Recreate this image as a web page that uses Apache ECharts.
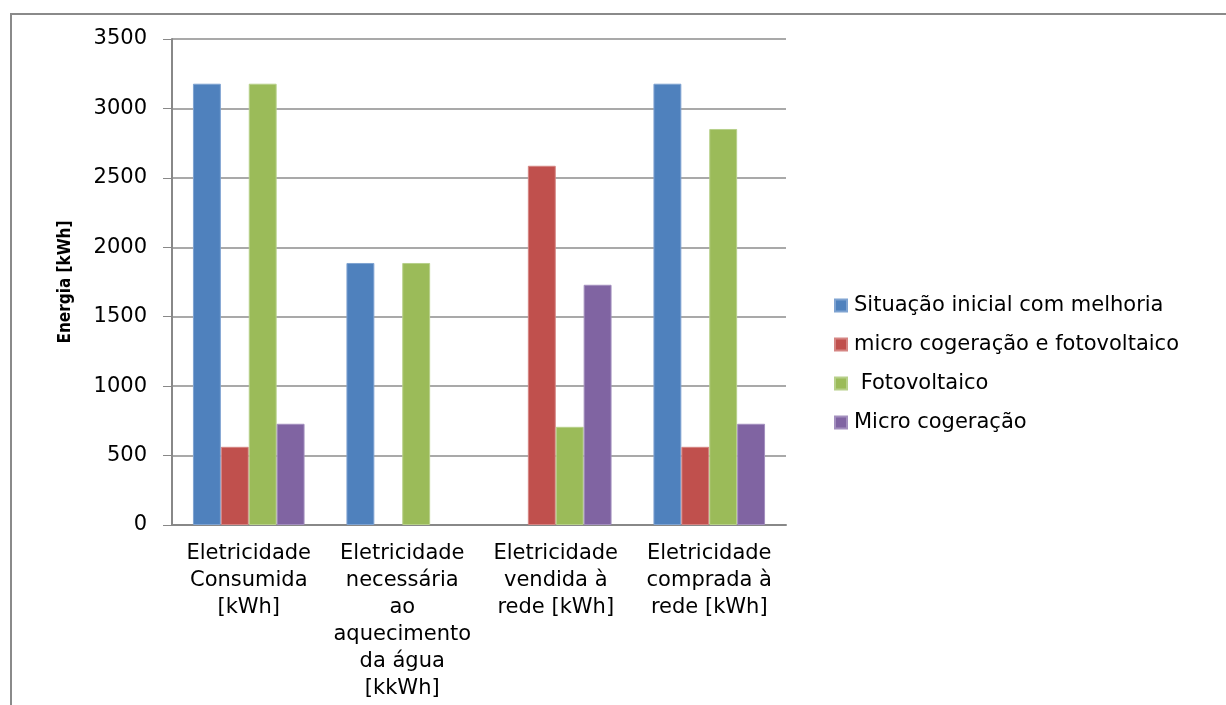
<!DOCTYPE html>
<html>
<head>
<meta charset="utf-8">
<script src="https://cdn.jsdelivr.net/npm/echarts@6/dist/echarts.min.js"></script>
<style>
  html, body { margin: 0; padding: 0; background: #ffffff; }
  #chart { width: 1226px; height: 705px; }
</style>
</head>
<body>
<div id="chart"></div>
<script>
// Category labels (x axis)
const categories = [
  'Eletricidade\nConsumida\n[kWh]',
  'Eletricidade\nnecessária\nao\naquecimento\nda água\n[kkWh]',
  'Eletricidade\nvendida à\nrede [kWh]',
  'Eletricidade\ncomprada à\nrede [kWh]'
];

// Series names
const seriesNames = [
  'Situação inicial com melhoria',
  'micro cogeração e fotovoltaico',
  ' Fotovoltaico',
  'Micro cogeração'
];

// Energy values [kWh] per category
const situacaoInicial = [3178, 1887, 0, 3178];
const microCogeracaoFotovoltaico = [563, 0, 2587, 563];
const fotovoltaico = [3178, 1887, 707, 2852];
const microCogeracao = [729, 0, 1730, 729];

// Y axis ticks
const yMin = 0;
const yMax = 3500;
const yStep = 500;

const colors = ['#4F81BD', '#C0504D', '#9BBB59', '#8064A2'];
const borders = ['#7FA3D1', '#D58583', '#B7D08A', '#A38FBE'];
const seriesData = [situacaoInicial, microCogeracaoFotovoltaico, fotovoltaico, microCogeracao];

const font = 'DejaVu Sans';

const chart = echarts.init(document.getElementById('chart'), null, { renderer: 'canvas' });

chart.setOption({
  animation: false,
  backgroundColor: '#ffffff',
  color: colors,
  graphic: [
    {
      // outer frame: only the top and left edges fall inside the canvas
      type: 'rect',
      shape: { x: 11, y: 14, width: 1400, height: 900 },
      style: { fill: 'none', stroke: '#8a8a8a', lineWidth: 2 },
      silent: true,
      z: -1
    }
  ],
  grid: { left: 172, top: 39, right: 440, bottom: 180, containLabel: false },
  legend: {
    orient: 'vertical',
    left: 829,
    top: 290,
    itemWidth: 12,
    itemHeight: 12,
    itemGap: 18,
    icon: 'rect',
    data: seriesNames,
    textStyle: { fontFamily: font, fontSize: 21, color: '#000000', padding: [0, 0, 0, 2] }
  },
  xAxis: {
    type: 'category',
    data: categories,
    axisLine: { lineStyle: { color: '#888888', width: 2 } },
    axisTick: { show: false },
    axisLabel: {
      interval: 0,
      margin: 15,
      fontFamily: font,
      fontSize: 21,
      lineHeight: 27,
      color: '#000000',
      align: 'center'
    }
  },
  yAxis: {
    type: 'value',
    min: yMin,
    max: yMax,
    interval: yStep,
    name: 'Energia [kWh]',
    nameLocation: 'middle',
    nameRotate: 90,
    nameGap: 98,
    nameTextStyle: {
      fontFamily: "'DejaVu Sans Condensed', 'Liberation Sans', sans-serif",
      fontWeight: 'bold',
      fontSize: 17,
      color: '#000000'
    },
    axisLine: { show: true, lineStyle: { color: '#888888', width: 2 } },
    axisTick: { show: true, length: 9, lineStyle: { color: '#888888' } },
    splitLine: { lineStyle: { color: '#8c8c8c', width: 1.5 } },
    axisLabel: {
      margin: 25,
      fontFamily: font,
      fontSize: 21,
      color: '#000000',
      formatter: (v) => String(v)
    }
  },
  series: seriesNames.map((name, i) => ({
    name: name,
    type: 'bar',
    data: seriesData[i].map(v => v === 0 ? { value: v, itemStyle: { borderWidth: 0 } } : v),
    barGap: '0%',
    barCategoryGap: '27.3%',
    itemStyle: { color: colors[i], borderColor: borders[i], borderWidth: 1 }
  }))
});
</script>
</body>
</html>
